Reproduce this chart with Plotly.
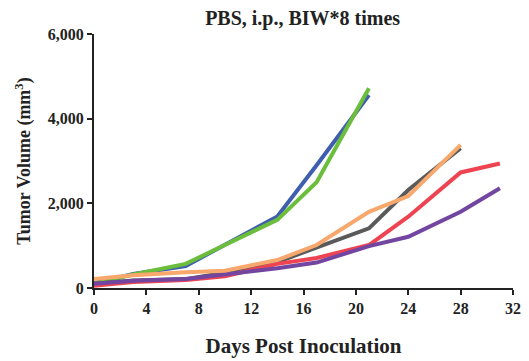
import plotly.graph_objects as go

# days of measurement
days = [0, 3, 7, 10, 14, 17, 21, 24, 28, 31]

# tumor volume per animal (mm3)
blue = [110, 330, 520, 1010, 1690, 2900, 4560]
green = [100, 320, 570, 1020, 1610, 2500, 4720]
gray = [100, 180, 210, 360, 615, 945, 1410, 2315, 3300]
red = [50, 140, 190, 280, 570, 710, 1015, 1685, 2730, 2940]
purple = [100, 170, 210, 320, 465, 600, 990, 1210, 1800, 2355]
orange = [210, 300, 370, 410, 660, 1015, 1800, 2170, 3380]

series = [
  ("blue", blue, "#3F5EAE"),
  ("green", green, "#6BBE3C"),
  ("gray", gray, "#5A5A5A"),
  ("red", red, "#EE4452"),
  ("purple", purple, "#7246A0"),
  ("orange", orange, "#F8A86C"),
]

FONT = "Liberation Serif"

fig = go.Figure()
for name, vals, color in series:
  fig.add_trace(go.Scatter(
    x=days[:len(vals)],
    y=vals,
    mode="lines",
    name=name,
    line=dict(color=color, width=4),
  ))

# page body has an 8px margin, so margins are shifted to line up with the reference
fig.update_layout(
  width=529,
  height=361,
  margin=dict(l=86, r=24, t=26, b=81),
  plot_bgcolor="white",
  paper_bgcolor="white",
  showlegend=False,
  title=dict(
    text="<b>PBS, i.p., BIW*8 times</b>",
    x=0.557, xanchor="center",
    y=0.972, yanchor="middle",
    font=dict(family=FONT, size=20, color="#222"),
  ),
  font=dict(family=FONT, color="#222"),
)

fig.update_xaxes(
  range=[0, 32],
  tickvals=list(range(0, 33, 4)),
  ticktext=[f"<b>{v}</b>" for v in range(0, 33, 4)],
  ticks="outside", ticklen=5, tickwidth=1.5, tickcolor="#222",
  showline=True, linecolor="#222", linewidth=2,
  showgrid=False, zeroline=False,
  tickfont=dict(family=FONT, size=16),
  title=dict(text="<b>Days Post Inoculation</b>", font=dict(family=FONT, size=21), standoff=22),
)
fig.update_yaxes(
  range=[0, 6000],
  tickvals=[0, 2000, 4000, 6000],
  ticktext=["<b>0</b>", "<b>2,000</b>", "<b>4,000</b>", "<b>6,000</b>"],
  ticks="outside", ticklen=5, tickwidth=1.5, tickcolor="#222",
  showline=True, linecolor="#222", linewidth=2,
  showgrid=False, zeroline=False,
  tickfont=dict(family=FONT, size=16),
  title=dict(text="<b>Tumor Volume (mm<sup>3</sup>)</b>", font=dict(family=FONT, size=18), standoff=12),
)

fig.write_html("out.html")
